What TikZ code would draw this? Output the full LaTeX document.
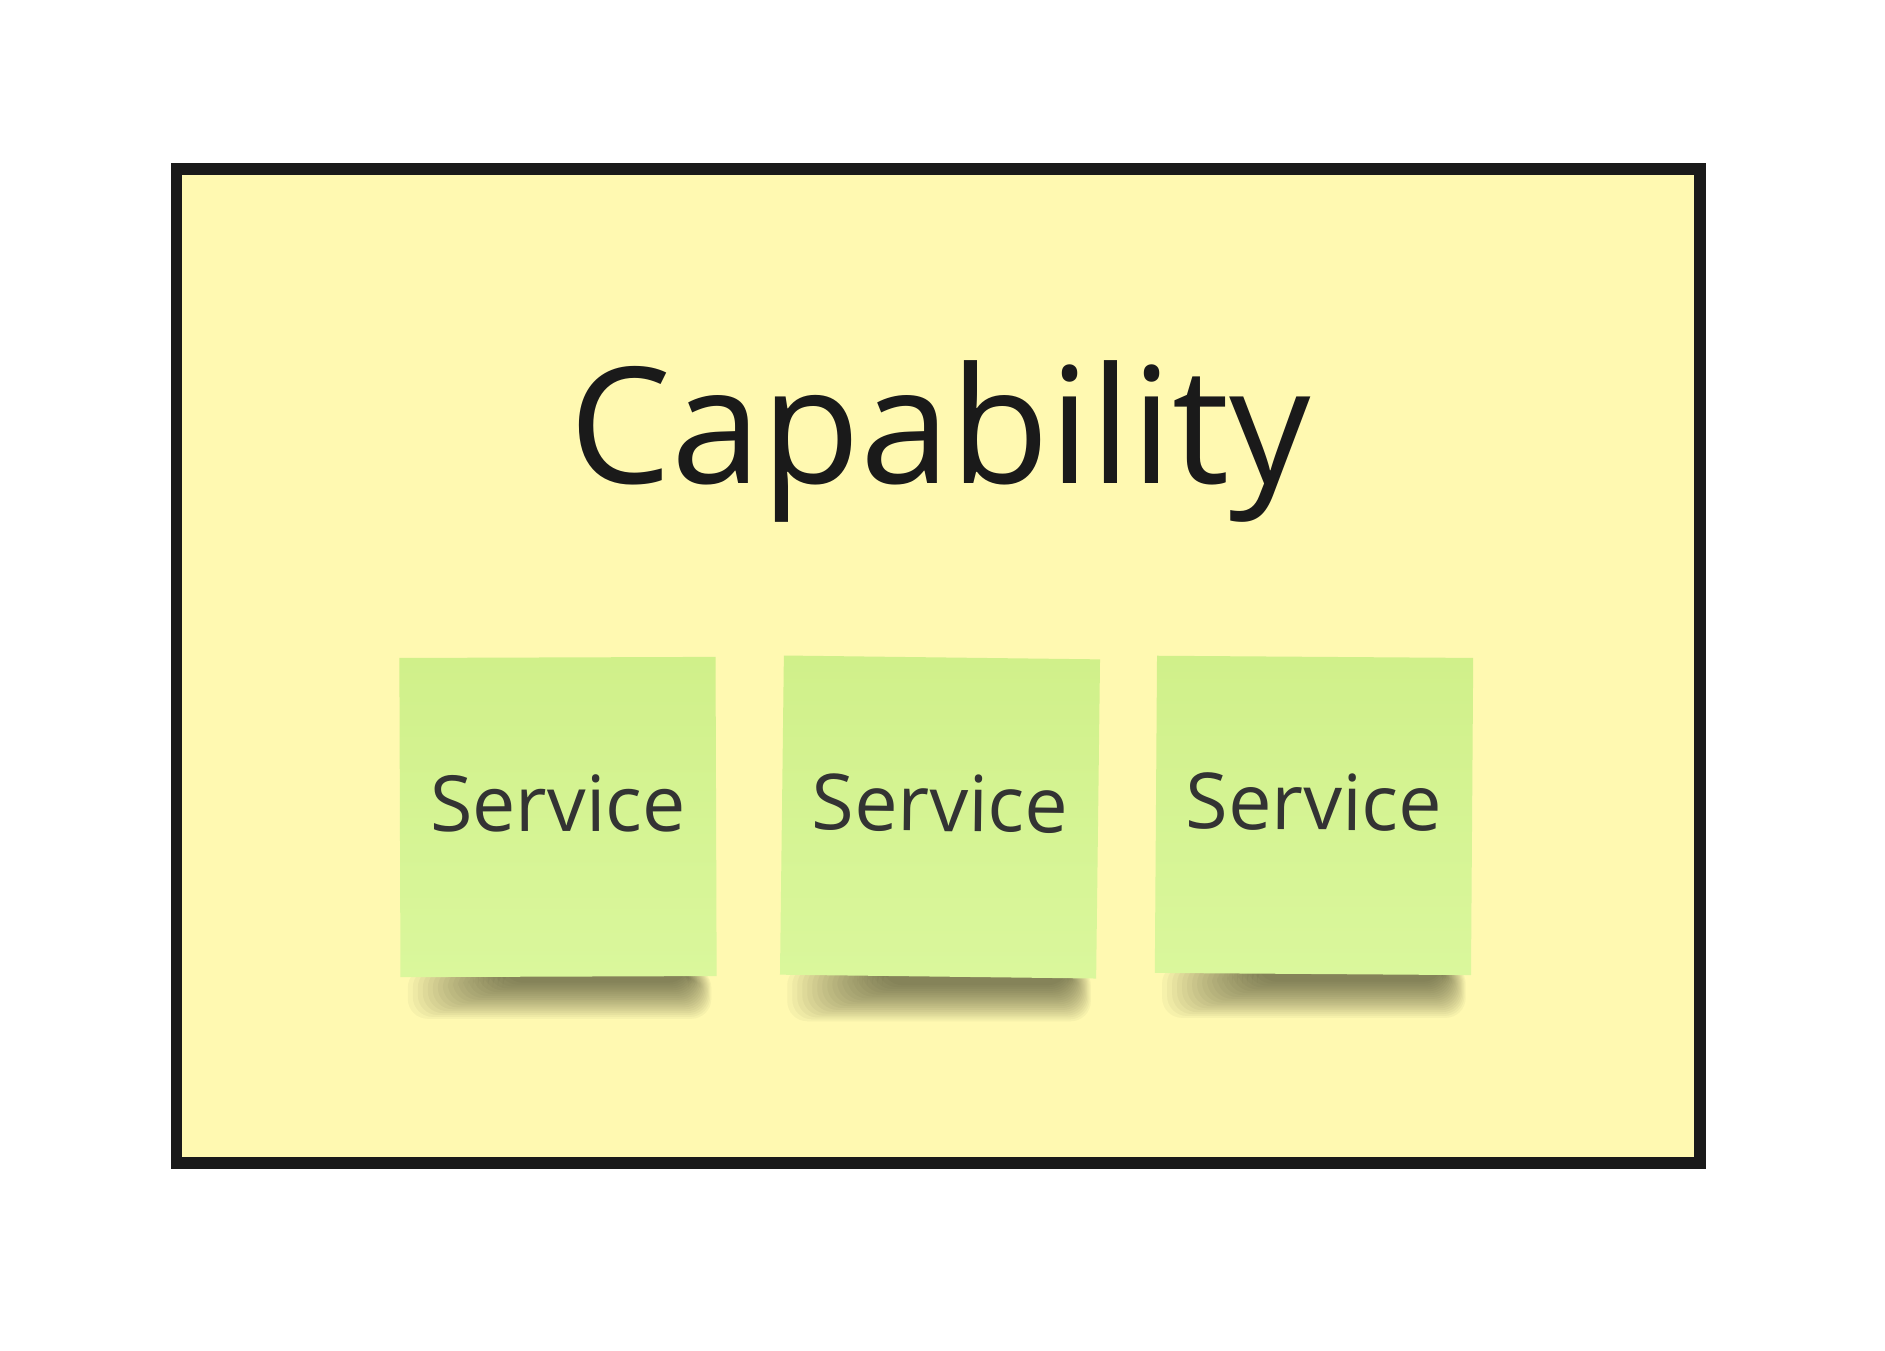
\documentclass[tikz,border=0pt]{standalone}
\usepackage{fontspec}
\setmainfont{Open Sans}

\definecolor{boardyellow}{HTML}{FFF9B1}
\definecolor{notetop}{HTML}{D0F08A}
\definecolor{notebottom}{HTML}{DAF79C}
\definecolor{frameink}{HTML}{1A1A1A}
\definecolor{noteink}{HTML}{333333}
\definecolor{shadowink}{HTML}{2E2E1E}

\pgfdeclarelayer{board}
\pgfdeclarelayer{shadows}
\pgfsetlayers{board,shadows,main}

\begin{document}
\begin{tikzpicture}[
    x=0.01cm,
    y=-0.01cm,
    frame/.style={draw=frameink, line width=0.117cm, fill=boardyellow},
    title/.style={text=frameink, anchor=base, font=\fontsize{46pt}{55pt}\selectfont},
    note/.style={minimum width=3.16cm, minimum height=3.19cm, inner sep=0pt,
        top color=notetop, bottom color=notebottom, text=noteink,
        font=\fontsize{22pt}{26pt}\selectfont, text depth=0.28cm},
    shadowlayer/.style={fill=shadowink, opacity=0.038, rounded corners=2mm}
]

\useasboundingbox (0,0) rectangle (1885,1350);

% Note centres
\def\noteY{817}
\def\xA{558}
\def\xB{940}
\def\xC{1314}

% =========================
% Board
% =========================
\begin{pgfonlayer}{board}
\draw[frame] (176.5,169) rectangle (1700,1163);
\end{pgfonlayer}

\node[title] (capability) at (940,483) {Capability};

% =========================
% Sticky notes
% =========================
\node[note, rotate=0.2]  (serviceA) at (\xA,\noteY) {Service};
\node[note, rotate=-0.7] (serviceB) at (\xB,\noteY) {Service};
\node[note, rotate=-0.4, minimum height=3.17cm] (serviceC) at (\xC,815.4) {Service};

% soft shadow under each note
\begin{pgfonlayer}{shadows}
\foreach \n in {serviceA,serviceB,serviceC}{
    \foreach \k in {0,...,19}{
        \fill[shadowlayer]
            ([xshift=0.8mm+\k*0.5mm, yshift=1mm]\n.south west)
            rectangle ([xshift=-0.6mm-\k*0.12mm, yshift=-4.2mm+\k*0.19mm]\n.south east);
    }
}
\end{pgfonlayer}

\end{tikzpicture}
\end{document}
